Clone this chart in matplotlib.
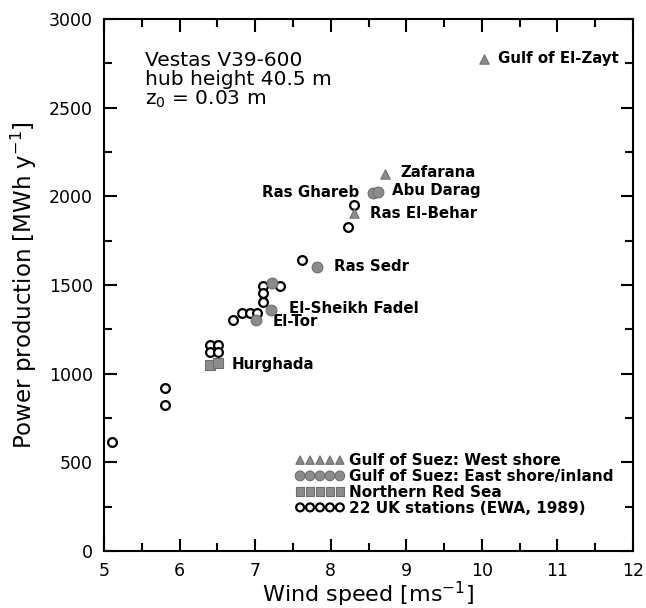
import matplotlib
matplotlib.use("Agg")
import matplotlib.pyplot as plt
from matplotlib.ticker import MultipleLocator

plt.rcParams["font.family"] = ["DejaVu Sans"]
plt.rcParams["mathtext.default"] = "regular"

# Gulf of Suez: West shore (triangles)
west_x = [10.03, 8.72, 8.31]
west_y = [2775, 2126, 1906]
west_names = ["Gulf of El-Zayt", "Zafarana", "Ras El-Behar"]

# Gulf of Suez: East shore/inland (filled circles)
east_x = [8.56, 8.62, 7.82, 7.21, 7.01, 7.22]
east_y = [2019, 2025, 1602, 1359, 1303, 1512]
east_names = ["Ras Ghareb", "Abu Darag", "Ras Sedr", "El-Sheikh Fadel", "El-Tor", ""]

# Northern Red Sea (squares)
red_x = [6.40, 6.51]
red_y = [1049, 1060]
red_names = ["", "Hurghada"]

# 22 UK stations (open circles)
uk_x = [8.31, 8.23, 7.62, 7.10, 7.33, 7.10, 7.10, 6.71, 6.83, 6.93, 7.02,
        6.40, 6.51, 6.40, 6.51, 5.81, 5.81, 5.11]
uk_y = [1951, 1827, 1641, 1495, 1495, 1455, 1404, 1303, 1342, 1342, 1342,
        1162, 1162, 1122, 1122, 919, 823, 615]

# label offsets in points (dx, dy, ha)
label_offsets = {
    "Gulf of El-Zayt": (10, 0, "left"),
    "Zafarana": (11, 1, "left"),
    "Ras El-Behar": (11.5, -0.5, "left"),
    "Ras Ghareb": (-10, 0, "right"),
    "Abu Darag": (10, 1, "left"),
    "Ras Sedr": (12, 0, "left"),
    "El-Sheikh Fadel": (13, 1, "left"),
    "El-Tor": (12, -1.5, "left"),
    "Hurghada": (10, -1, "left"),
}

gray = "#8c8c8c"
edge = "#6e6e6e"

fig = plt.figure(figsize=(6.46, 6.08), dpi=100)
ax = fig.add_axes([0.161, 0.094, 0.819, 0.875])

ax.scatter(uk_x, uk_y, s=40, marker="o", facecolor="white", edgecolor="black",
           linewidths=1.6, zorder=3, label="22 UK stations (EWA, 1989)")
ax.scatter(west_x, west_y, s=45, marker="^", color=gray, edgecolor=edge,
           linewidths=0.8, zorder=4, label="Gulf of Suez: West shore")
ax.scatter(east_x, east_y, s=60, marker="o", color=gray, edgecolor=edge,
           linewidths=0.8, zorder=4, label="Gulf of Suez: East shore/inland")
ax.scatter(red_x, red_y, s=45, marker="s", color=gray, edgecolor=edge,
           linewidths=0.8, zorder=4, label="Northern Red Sea")

for xs, ys, names in [(west_x, west_y, west_names),
                      (east_x, east_y, east_names),
                      (red_x, red_y, red_names)]:
    for x, y, name in zip(xs, ys, names):
        if not name:
            continue
        dx, dy, ha = label_offsets[name]
        ax.annotate(name, (x, y), xytext=(dx, dy), textcoords="offset points",
                    ha=ha, va="center", fontsize=10.8, fontweight="bold")

ax.text(0.078, 0.94, "Vestas V39-600\nhub height 40.5 m\nz$_0$ = 0.03 m",
        transform=ax.transAxes, ha="left", va="top", fontsize=14.5,
        linespacing=1.0)

handles, labels = ax.get_legend_handles_labels()
order = [1, 2, 3, 0]
leg = ax.legend([handles[i] for i in order], [labels[i] for i in order],
                scatterpoints=5, scatteryoffsets=[0.5], markerscale=0.9,
                loc="lower left", bbox_to_anchor=(0.362, 0.066),
                frameon=False, handlelength=3.2, handletextpad=0.3,
                labelspacing=0.05, borderpad=0, borderaxespad=0,
                prop={"weight": "bold", "size": 11})

ax.set_xlim(5, 12)
ax.set_ylim(0, 3000)
ax.xaxis.set_major_locator(MultipleLocator(1))
ax.xaxis.set_minor_locator(MultipleLocator(0.5))
ax.yaxis.set_major_locator(MultipleLocator(500))
ax.yaxis.set_minor_locator(MultipleLocator(250))
ax.tick_params(which="both", direction="in", top=True, right=True, width=1.5)
ax.tick_params(which="major", length=9, labelsize=12.5, pad=8)
ax.tick_params(which="minor", length=6)
for sp in ax.spines.values():
    sp.set_linewidth(1.5)

ax.set_xlabel("Wind speed [ms$^{-1}$]", fontsize=16, labelpad=0)
ax.set_ylabel("Power production [MWh y$^{-1}$]", fontsize=16.5, labelpad=7)

fig.savefig("out.png", dpi=100)
